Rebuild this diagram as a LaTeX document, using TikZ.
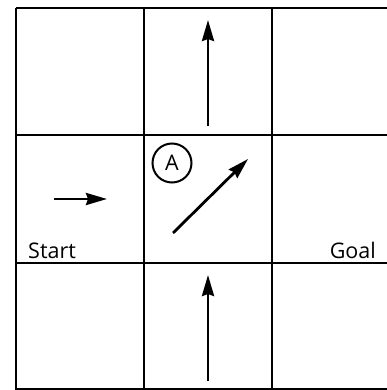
\documentclass[tikz,border=0pt]{standalone}
\usepackage{fontspec}
\setmainfont{Open Sans}
\usetikzlibrary{arrows.meta}
\begin{document}
\begin{tikzpicture}[x=1pt,y=-1pt,
  gridline/.style={line width=2.6pt},
  move/.style={line width=2.8pt,-{Stealth[length=21pt,width=12pt,inset=2pt]}},
  lbl/.style={font=\fontsize{21.5}{24}\selectfont,inner sep=0pt}]
\useasboundingbox (0,0) rectangle (387,390);
\clip (0,0) rectangle (387,390);
% grid
\foreach \x in {16,144,272} \draw[gridline] (\x,8) -- (\x,392);
\foreach \y in {8,135,263,389} \draw[gridline] (16,\y) -- (392,\y);
% arrow end points
\coordinate (t1) at (208,126); \coordinate (t2) at (208,20);
\coordinate (b1) at (208,381); \coordinate (b2) at (208,275);
\coordinate (s1) at (54,199); \coordinate (s2) at (107,199);
\coordinate (d1) at (173,233); \coordinate (d2) at (248,159);
\draw[move] (t1) -- (t2);
\draw[move] (b1) -- (b2);
\draw[move] (s1) -- (s2);
\draw[move] (d1) -- (d2);
% labels
\node[lbl,draw,circle,line width=2pt,minimum size=39pt] (A) at (172,163) {A};
\node[lbl,anchor=base west] (start) at (28,258) {Start};
\node[lbl,anchor=base east] (goal) at (376,258) {Goal};
\end{tikzpicture}
\end{document}
